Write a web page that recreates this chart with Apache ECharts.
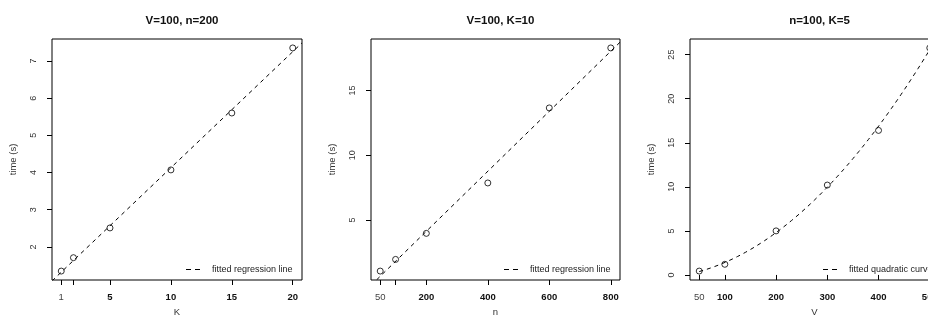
<!DOCTYPE html>
<html><head><meta charset="utf-8">
<script src="https://cdn.jsdelivr.net/npm/echarts@6/dist/echarts.min.js"></script>
<style>html,body{margin:0;padding:0;background:#fff}#c{width:928px;height:323px}</style>
</head><body><div id="c"></div>
<script>
// ---- data ----
const kVals = [1, 2, 5, 10, 15, 20];
const timeK = [1.35, 1.71, 2.51, 4.07, 5.60, 7.35];
const nVals = [50, 100, 200, 400, 600, 800];
const timeN = [1.06, 1.96, 3.97, 7.86, 13.65, 18.28];
const vVals = [50, 100, 200, 300, 400, 500];
const timeV = [0.44, 1.21, 5.0, 10.2, 16.4, 25.76];

const titles = ['V=100, n=200', 'V=100, K=10', 'n=100, K=5'];
const xNames = ['K', 'n', 'V'];
const yName = 'time (s)';
const xTicks = [[1, 2, 5, 10, 15, 20], [50, 100, 200, 400, 600, 800], [50, 100, 200, 300, 400, 500]];
const xLabels = [[1, 5, 10, 15, 20], [50, 200, 400, 600, 800], [50, 100, 200, 300, 400, 500]];
const yTicks = [[2, 3, 4, 5, 6, 7], [5, 10, 15], [0, 5, 10, 15, 20, 25]];
const fitNames = ['fitted regression line', 'fitted regression line', 'fitted quadratic curve'];

// ---- helpers ----
function rRange(arr) { const lo = Math.min(...arr), hi = Math.max(...arr), d = hi - lo; return [lo - 0.04 * d, hi + 0.04 * d]; }
function linFit(xs, ys) {
  const n = xs.length, mx = xs.reduce((a, b) => a + b) / n, my = ys.reduce((a, b) => a + b) / n;
  let sxy = 0, sxx = 0;
  for (let i = 0; i < n; i++) { sxy += (xs[i] - mx) * (ys[i] - my); sxx += (xs[i] - mx) ** 2; }
  const b = sxy / sxx; return [my - b * mx, b];
}
function quadFit(xs, ys) {
  const S = k => xs.reduce((s, x) => s + x ** k, 0);
  const T = k => xs.reduce((s, x, i) => s + ys[i] * x ** k, 0);
  const M = [[S(0), S(1), S(2), T(0)], [S(1), S(2), S(3), T(1)], [S(2), S(3), S(4), T(2)]];
  for (let c = 0; c < 3; c++) {
    for (let r = c + 1; r < 3; r++) { const f = M[r][c] / M[c][c]; for (let k = c; k < 4; k++) M[r][k] -= f * M[c][k]; }
  }
  const z = [0, 0, 0];
  for (let r = 2; r >= 0; r--) { let s = M[r][3]; for (let k = r + 1; k < 3; k++) s -= M[r][k] * z[k]; z[r] = s / M[r][r]; }
  return z;
}

const xs = [kVals, nVals, vVals], ys = [timeK, timeN, timeV];
const fitData = [];
for (let i = 0; i < 2; i++) {
  const [a, b] = linFit(xs[i], ys[i]); const [x0, x1] = rRange(xs[i]);
  fitData.push([[x0, a + b * x0], [x1, a + b * x1]]);
}
{
  const [a, b, c] = quadFit(vVals, timeV); const pts = [];
  const lo = Math.min(...vVals), hi = Math.max(...vVals);
  for (let j = 0; j <= 120; j++) { const v = lo + (hi - lo) * j / 120; pts.push([v, a + b * v + c * v * v]); }
  fitData.push(pts);
}

const FONT = 'Liberation Sans, Arial, Helvetica, sans-serif';
const gridLeft = [52, 371, 690], gridW = [250, 249, 249];
const grids = [], xAxes = [], yAxes = [], series = [], titleArr = [], legends = [];
const legendLeft = [186, 504, 823];

for (let i = 0; i < 3; i++) {
  grids.push({ left: gridLeft[i], top: 39, width: gridW[i], height: 241, show: true, borderColor: '#000', borderWidth: 1,
    backgroundColor: 'transparent', outerBoundsMode: 'none', containLabel: false });
  const xr = rRange(xs[i]), yr = rRange(ys[i]);
  const firstLab = xLabels[i][0];
  xAxes.push({
    gridIndex: i, type: 'value', min: xr[0], max: xr[1],
    axisLine: { show: false }, splitLine: { show: false },
    axisTick: { show: true, length: 5, customValues: xTicks[i], lineStyle: { color: '#000', width: 1 } },
    axisLabel: {
      customValues: xLabels[i], margin: 12, fontFamily: FONT, fontSize: 9.5, fontWeight: 'bold', color: '#111',
      formatter: v => (v === firstLab ? '{n|' + v + '}' : '{b|' + v + '}'),
      rich: { n: { fontFamily: FONT, fontSize: 9.5, fontWeight: 'normal', color: '#444' }, b: { fontFamily: FONT, fontSize: 9.5, fontWeight: 'bold', color: '#111' } }
    },
    name: xNames[i], nameLocation: 'middle', nameGap: 27,
    nameTextStyle: { fontFamily: FONT, fontSize: 9.5, color: '#333' }
  });
  yAxes.push({
    gridIndex: i, type: 'value', min: yr[0], max: yr[1],
    axisLine: { show: false }, splitLine: { show: false },
    axisTick: { show: true, length: 5, customValues: yTicks[i], lineStyle: { color: '#000', width: 1 } },
    axisLabel: { customValues: yTicks[i], rotate: 90, margin: 14, fontFamily: FONT, fontSize: 9, color: '#333' },
    name: yName, nameLocation: 'middle', nameGap: 34, nameRotate: 90,
    nameTextStyle: { fontFamily: FONT, fontSize: 9.5, color: '#333' }
  });
  series.push({
    type: 'line', name: fitNames[i], xAxisIndex: i, yAxisIndex: i, data: fitData[i],
    symbol: 'none', showSymbol: false, smooth: false, clip: true, silent: true,
    itemStyle: { color: '#000' },
    lineStyle: { color: '#000', width: 1, type: [4, 4] }, z: 2
  });
  series.push({
    type: 'scatter', name: 'obs' + i, xAxisIndex: i, yAxisIndex: i,
    data: xs[i].map((x, j) => [x, ys[i][j]]), symbol: 'circle', symbolSize: 6, silent: true, clip: true,
    itemStyle: { color: 'rgba(0,0,0,0)', borderColor: '#000', borderWidth: 1 }, z: 3
  });
  titleArr.push({ text: titles[i], left: gridLeft[i] + gridW[i] / 2, top: 10, textAlign: 'center',
    textStyle: { fontFamily: FONT, fontSize: 11.5, fontWeight: 'bold', color: '#111' } });
  legends.push({
    data: [fitNames[i]], left: legendLeft[i], top: 265, itemWidth: 14, itemHeight: 1, padding: 0,
    icon: 'path://M0,0h5v1h-5z M9,0h5v1h-5z', symbolKeepAspect: false,
    itemStyle: { color: '#000', borderWidth: 0 },
    selectedMode: false, inactiveColor: '#000',
    textStyle: { fontFamily: FONT, fontSize: 9, color: '#222', padding: [0, 0, 0, 7] }
  });
}

const chart = echarts.init(document.getElementById('c'), null, { renderer: 'canvas' });
chart.setOption({
  animation: false, backgroundColor: '#fff',
  title: titleArr, legend: legends, grid: grids, xAxis: xAxes, yAxis: yAxes, series: series
});
</script></body></html>
